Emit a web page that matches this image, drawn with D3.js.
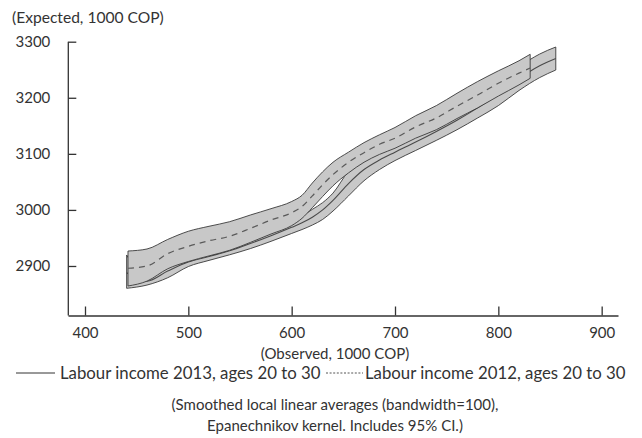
<!DOCTYPE html>
<html>
<head>
<meta charset="utf-8">
<script src="https://cdn.jsdelivr.net/npm/d3@7"></script>
<style>
  html, body { margin: 0; padding: 0; background: #fff; }
  svg { display: block; }
  text { font-family: Lato, "Open Sans", sans-serif; fill: #333; }
</style>
</head>
<body>
<svg id="chart" width="642" height="438"></svg>
<script>
// Labour income 2012, ages 20 to 30: smoothed mean with 95% CI
const x2012    = [441.6, 460, 480, 500, 520, 540, 560, 580, 600, 610, 620, 630, 640, 655, 670, 685, 700, 720, 740, 760, 780, 800, 820, 830.8];
const mean2012 = [2896, 2900, 2922, 2935, 2945, 2953, 2967, 2982, 2995, 3006, 3025, 3045, 3063, 3085, 3102, 3117, 3128, 3148, 3164, 3185, 3205, 3226, 3244, 3253];
const lo2012   = [2864.3, 2873, 2895, 2908, 2918, 2928, 2942, 2957, 2972, 2985, 3004, 3024, 3043, 3066, 3085, 3099, 3110, 3128, 3143, 3163, 3182, 3203, 3223, 3234.7];
const hi2012   = [2926.7, 2930.3, 2947.3, 2961.9, 2970.8, 2979, 2990.9, 3002.2, 3015, 3026, 3048, 3068, 3085, 3103, 3120, 3134, 3147, 3168, 3186, 3208, 3229, 3248, 3266, 3277.5];

// Labour income 2013, ages 20 to 30: smoothed mean with 95% CI
const x2013    = [440.3, 460, 480, 500, 520, 540, 560, 580, 600, 610, 620, 630, 640, 655, 670, 685, 700, 720, 740, 760, 780, 800, 820, 840, 855.6];
const mean2013 = [2888, 2873, 2891, 2907, 2917, 2927, 2940, 2954, 2969, 2977, 2987, 3000, 3017, 3047, 3072, 3089, 3103, 3121, 3140, 3160, 3182, 3206, 3234, 3257, 3270];
const lo2013   = [2860.2, 2866, 2879, 2899, 2910, 2920, 2931, 2944, 2958, 2965, 2973, 2983, 2998, 3025, 3052, 3072, 3088, 3106, 3124, 3143, 3164, 3186, 3213, 3236, 3249.5];
const hi2013   = [2919.6, 2880, 2903, 2915, 2924, 2934, 2949, 2964, 2980, 2989, 3001, 3013, 3030, 3069, 3092, 3106, 3118, 3136, 3156, 3177, 3200, 3226, 3255, 3278, 3290.5];

const xTicks = [400, 500, 600, 700, 800, 900];
const yTicks = [2900, 3000, 3100, 3200, 3300];

const yTitle = "(Expected, 1000 COP)";
const xTitle = "(Observed, 1000 COP)";
const legend2013 = "Labour income 2013, ages 20 to 30";
const legend2012 = "Labour income 2012, ages 20 to 30";
const noteLines = ["(Smoothed local linear averages (bandwidth=100),", "Epanechnikov kernel. Includes 95% CI.)"];

const svg = d3.select("#chart");

const x = d3.scaleLinear().domain([383.55, 915.8]).range([68, 618]);
const y = d3.scaleLinear().domain([2811.7, 3300]).range([315.5, 41.7]);

const rows = (xs, m, lo, hi) => xs.map((v, i) => ({ x: v, m: m[i], lo: lo[i], hi: hi[i] }));
const d2012 = rows(x2012, mean2012, lo2012, hi2012);
const d2013 = rows(x2013, mean2013, lo2013, hi2013);

const band = d3.area()
  .x(d => x(d.x)).y0(d => y(d.lo)).y1(d => y(d.hi))
  .curve(d3.curveMonotoneX);
const meanLine = d3.line()
  .x(d => x(d.x)).y(d => y(d.m))
  .curve(d3.curveMonotoneX);

const plot = svg.append("g");

// 2013 band and mean first, 2012 drawn over it
plot.append("path").datum(d2013).attr("d", band)
  .attr("fill", "#c8c8c8").attr("stroke", "#3a3a3a").attr("stroke-width", 0.9);
plot.append("path").datum(d2013).attr("d", meanLine)
  .attr("fill", "none").attr("stroke", "#4a4a4a").attr("stroke-width", 1.1);
plot.append("path").datum(d2012).attr("d", band)
  .attr("fill", "#c8c8c8").attr("stroke", "#3a3a3a").attr("stroke-width", 0.9);
plot.append("path").datum(d2012).attr("d", meanLine)
  .attr("fill", "none").attr("stroke", "#5a5a5a").attr("stroke-width", 1.2)
  .attr("stroke-dasharray", "6,5");

// Axes
const xAxis = svg.append("g").attr("transform", "translate(0,315.5)")
  .call(d3.axisBottom(x).tickValues(xTicks).tickSizeInner(-9).tickSizeOuter(0).tickPadding(12).tickFormat(d3.format("d")));
const yAxis = svg.append("g").attr("transform", "translate(68.3,0)")
  .call(d3.axisLeft(y).tickValues(yTicks).tickSizeInner(-8).tickSizeOuter(0).tickPadding(18).tickFormat(d3.format("d")));
yAxis.select(".domain").attr("d", `M0,${y(3300)}V315.5`);

[xAxis, yAxis].forEach(a => {
  a.selectAll(".domain, .tick line").attr("stroke", "#333").attr("stroke-width", 1.3);
  a.selectAll(".tick text").attr("font-size", 15).attr("fill", "#333")
    .style("font-family", "Lato, 'Open Sans', sans-serif");
});

// Titles
svg.append("text").attr("x", 12).attr("y", 23).attr("font-size", 15.6).text(yTitle);
svg.append("text").attr("x", 335).attr("y", 359).attr("text-anchor", "middle").attr("font-size", 15).text(xTitle);

// Legend
const lg = svg.append("g");
lg.append("line").attr("x1", 16).attr("x2", 55).attr("y1", 373).attr("y2", 373)
  .attr("stroke", "#333").attr("stroke-width", 1);
lg.append("text").attr("x", 60).attr("y", 378.5).attr("font-size", 16.8).text(legend2013);
lg.append("line").attr("x1", 326).attr("x2", 363).attr("y1", 373).attr("y2", 373)
  .attr("stroke", "#555").attr("stroke-width", 1).attr("stroke-dasharray", "2,1.6");
lg.append("text").attr("x", 365).attr("y", 378.5).attr("font-size", 16.8).text(legend2012);

// Note
svg.append("g").selectAll("text").data(noteLines).join("text")
  .attr("x", 335).attr("y", (d, i) => 410 + i * 21)
  .attr("text-anchor", "middle").attr("font-size", 15).text(d => d);
</script>
</body>
</html>
